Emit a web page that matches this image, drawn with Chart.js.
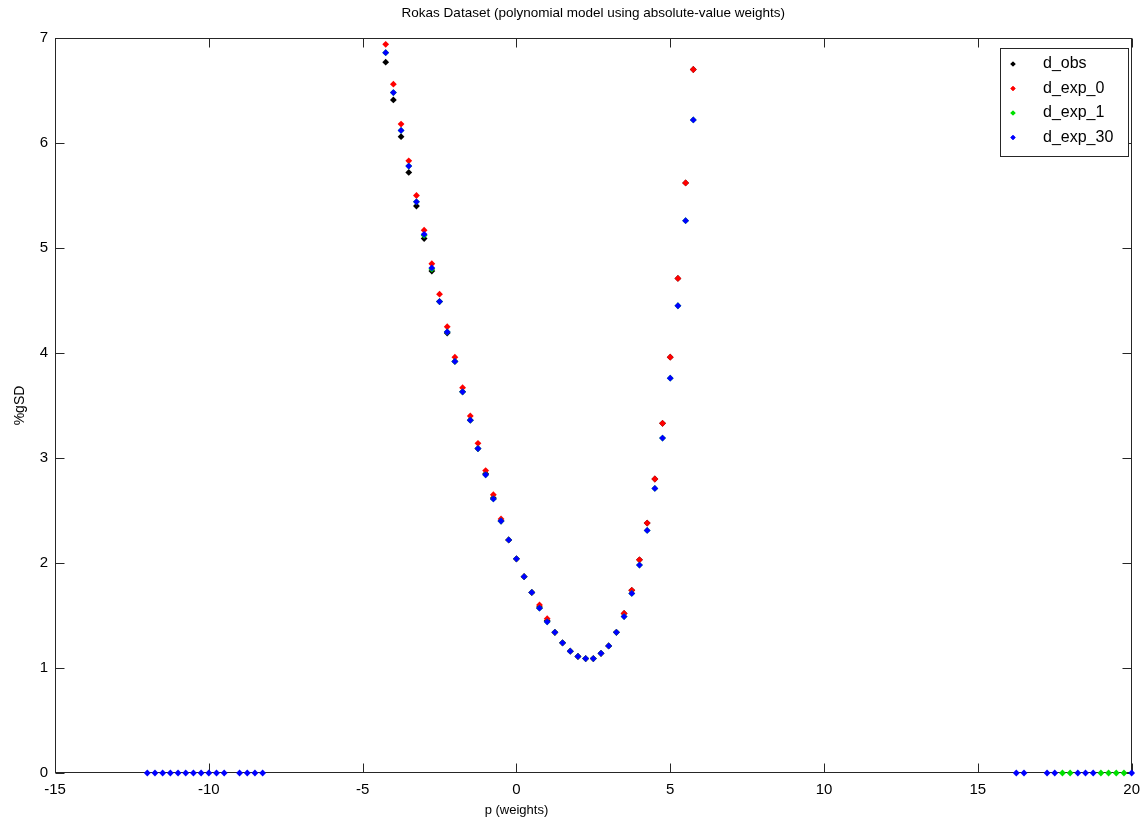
<!DOCTYPE html>
<html>
<head>
<meta charset="utf-8">
<script src="https://cdn.jsdelivr.net/npm/chart.js@4/dist/chart.umd.min.js"></script>
<style>
  html, body { margin: 0; padding: 0; background: #fff; }
</style>
</head>
<body>
<canvas id="chart" width="1148" height="824"></canvas>
<script>
/* ── DATA ── */
const pWeights = [-4.25, -4, -3.75, -3.5, -3.25, -3, -2.75, -2.5, -2.25, -2, -1.75, -1.5, -1.25, -1,
  -0.75, -0.5, -0.25, 0, 0.25, 0.5, 0.75, 1, 1.25, 1.5, 1.75, 2, 2.25, 2.5, 2.75, 3, 3.25, 3.5,
  3.75, 4, 4.25, 4.5, 4.75, 5, 5.25, 5.5, 5.75];

const dObs   = [6.77, 6.41, 6.06, 5.72, 5.40, 5.09, 4.78, 4.49, 4.19, 3.92, 3.63, 3.36, 3.09, 2.85,
  2.62, 2.40, 2.22, 2.04, 1.87, 1.72, 1.58, 1.45, 1.34, 1.24, 1.16, 1.11, 1.09, 1.09, 1.14, 1.21, 1.34, 1.52,
  1.74, 2.03, 2.38, 2.80, 3.33, 3.96, 4.71, 5.62, 6.70];
const dExp0  = [6.94, 6.56, 6.18, 5.83, 5.50, 5.17, 4.85, 4.56, 4.25, 3.96, 3.67, 3.40, 3.14, 2.88,
  2.65, 2.42, 2.22, 2.04, 1.87, 1.72, 1.60, 1.47, 1.34, 1.24, 1.16, 1.11, 1.09, 1.09, 1.14, 1.21, 1.34, 1.52,
  1.74, 2.03, 2.38, 2.80, 3.33, 3.96, 4.71, 5.62, 6.70];
const dExp1  = [6.86, 6.48, 6.12, 5.78, 5.44, 5.12, 4.80, 4.49, 4.20, 3.92, 3.63, 3.36, 3.09, 2.84,
  2.61, 2.40, 2.22, 2.04, 1.87, 1.72, 1.57, 1.44, 1.34, 1.24, 1.16, 1.11, 1.09, 1.09, 1.14, 1.21, 1.34, 1.49,
  1.71, 1.98, 2.31, 2.71, 3.19, 3.76, 4.45, 5.26, 6.22];
const dExp30 = [6.86, 6.48, 6.12, 5.78, 5.44, 5.13, 4.81, 4.49, 4.20, 3.92, 3.63, 3.36, 3.09, 2.84,
  2.61, 2.40, 2.22, 2.04, 1.87, 1.72, 1.57, 1.44, 1.34, 1.24, 1.16, 1.11, 1.09, 1.09, 1.14, 1.21, 1.34, 1.49,
  1.71, 1.98, 2.31, 2.71, 3.19, 3.76, 4.45, 5.26, 6.22];

// points lying on the x axis (value 0)
const zeroX30 = [-12, -11.75, -11.5, -11.25, -11, -10.75, -10.5, -10.25, -10, -9.75, -9.5,
  -9, -8.75, -8.5, -8.25, 16.25, 16.5, 17.25, 17.5, 18.25, 18.5, 18.75, 20];
const zeroX1  = [17.75, 18, 19, 19.25, 19.5, 19.75];

const xTicks = [-15, -10, -5, 0, 5, 10, 15, 20];
const yTicks = [0, 1, 2, 3, 4, 5, 6, 7];

const seriesNames  = ['d_obs', 'd_exp_0', 'd_exp_1', 'd_exp_30'];
const seriesColors = ['#000000', '#ff0000', '#00e000', '#0000ff'];

const chartTitle = 'Rokas Dataset (polynomial model using absolute-value weights)';
const xLabel = 'p (weights)';
const yLabel = '%gSD';

/* ── HELPERS ── */
const FONT = "'Liberation Sans', Arial, sans-serif";
const AXIS = '#262626';
const TICK_LEN = 9;

const pts   = (xs, ys) => xs.map((x, i) => ({ x, y: ys[i] }));
const zeros = xs => xs.map(x => ({ x, y: 0 }));

const marker = (i, data) => ({
  label: seriesNames[i],
  data,
  pointStyle: 'rectRot',
  pointRadius: 3.4,
  pointHoverRadius: 3.4,
  pointBorderWidth: 0,
  backgroundColor: seriesColors[i],
  borderColor: seriesColors[i],
  showLine: false,
  clip: false,
  order: 4 - i,           // later series drawn on top
});

/* ── box, inner ticks, titles, legend ── */
const matlabAxes = {
  id: 'matlabAxes',
  beforeDatasetsDraw(chart) {
    const { ctx, chartArea: a, scales: { x, y } } = chart;
    const L = Math.round(a.left) + 0.5, R = Math.round(a.right) - 0.5;
    const T = Math.round(a.top) + 0.5,  B = Math.round(a.bottom) - 0.5;
    ctx.save();
    ctx.strokeStyle = AXIS;
    ctx.lineWidth = 1;
    ctx.strokeRect(L, T, R - L, B - T);
    ctx.beginPath();
    xTicks.forEach(v => {
      const px = Math.round(x.getPixelForValue(v)) + 0.5;
      ctx.moveTo(px, B); ctx.lineTo(px, B - TICK_LEN);
      ctx.moveTo(px, T); ctx.lineTo(px, T + TICK_LEN);
    });
    yTicks.forEach(v => {
      const py = Math.round(y.getPixelForValue(v)) + 0.5;
      ctx.moveTo(L, py); ctx.lineTo(L + TICK_LEN, py);
      ctx.moveTo(R, py); ctx.lineTo(R - TICK_LEN, py);
    });
    ctx.stroke();

    // title centred over the axes, x label sits under x = 0 as in the source figure
    ctx.fillStyle = '#000';
    ctx.textAlign = 'center';
    ctx.textBaseline = 'middle';
    ctx.font = '13.5px ' + FONT;
    ctx.fillText(chartTitle, (a.left + a.right) / 2, 13);
    ctx.font = '13px ' + FONT;
    ctx.fillText(xLabel, x.getPixelForValue(0), 810);
    ctx.restore();
  },
  afterDraw(chart) {
    const { ctx } = chart;
    const bx = 1000.5, by = 48.5, bw = 128, bh = 108;
    ctx.save();
    ctx.fillStyle = '#fff';
    ctx.fillRect(bx, by, bw, bh);
    ctx.strokeStyle = AXIS;
    ctx.lineWidth = 1;
    ctx.strokeRect(bx, by, bw, bh);
    ctx.font = '16px ' + FONT;
    ctx.textBaseline = 'middle';
    ctx.textAlign = 'left';
    seriesNames.forEach((name, i) => {
      const yy = 64 + i * 24.5;
      ctx.fillStyle = seriesColors[i];
      Chart.helpers.drawPoint(ctx, { pointStyle: 'rectRot', radius: 2.6, borderWidth: 0 }, 1013, yy);
      ctx.fill();
      ctx.fillStyle = '#000';
      ctx.fillText(name, 1043, yy);
    });
    ctx.restore();
  }
};

new Chart(document.getElementById('chart'), {
  type: 'scatter',
  data: {
    datasets: [
      marker(0, pts(pWeights, dObs)),
      marker(1, pts(pWeights, dExp0)),
      marker(2, pts(pWeights, dExp1).concat(zeros(zeroX1))),
      marker(3, pts(pWeights, dExp30).concat(zeros(zeroX30))),
    ]
  },
  options: {
    responsive: false,
    animation: false,
    devicePixelRatio: 1,
    layout: { padding: { left: 0, right: 12, top: 38, bottom: 0 } },
    plugins: {
      legend: { display: false },
      tooltip: { enabled: false },
      title: { display: false }
    },
    scales: {
      x: {
        type: 'linear', min: -15, max: 20,
        afterBuildTicks: s => { s.ticks = xTicks.map(v => ({ value: v })); },
        afterFit: s => { s.height = 51; },
        grid: { display: false, drawTicks: false },
        border: { display: false },
        ticks: { color: '#000', padding: 8, font: { family: FONT, size: 15 }, maxRotation: 0 }
      },
      y: {
        type: 'linear', min: 0, max: 7,
        afterBuildTicks: s => { s.ticks = yTicks.map(v => ({ value: v })); },
        afterFit: s => { s.width = 55; },
        grid: { display: false, drawTicks: false },
        border: { display: false },
        ticks: { color: '#000', padding: 7, font: { family: FONT, size: 15 } },
        title: {
          display: true, text: yLabel, color: '#000',
          font: { family: FONT, size: 14 }, padding: { top: 12, bottom: 0 }
        }
      }
    }
  },
  plugins: [matlabAxes]
});
</script>
</body>
</html>
